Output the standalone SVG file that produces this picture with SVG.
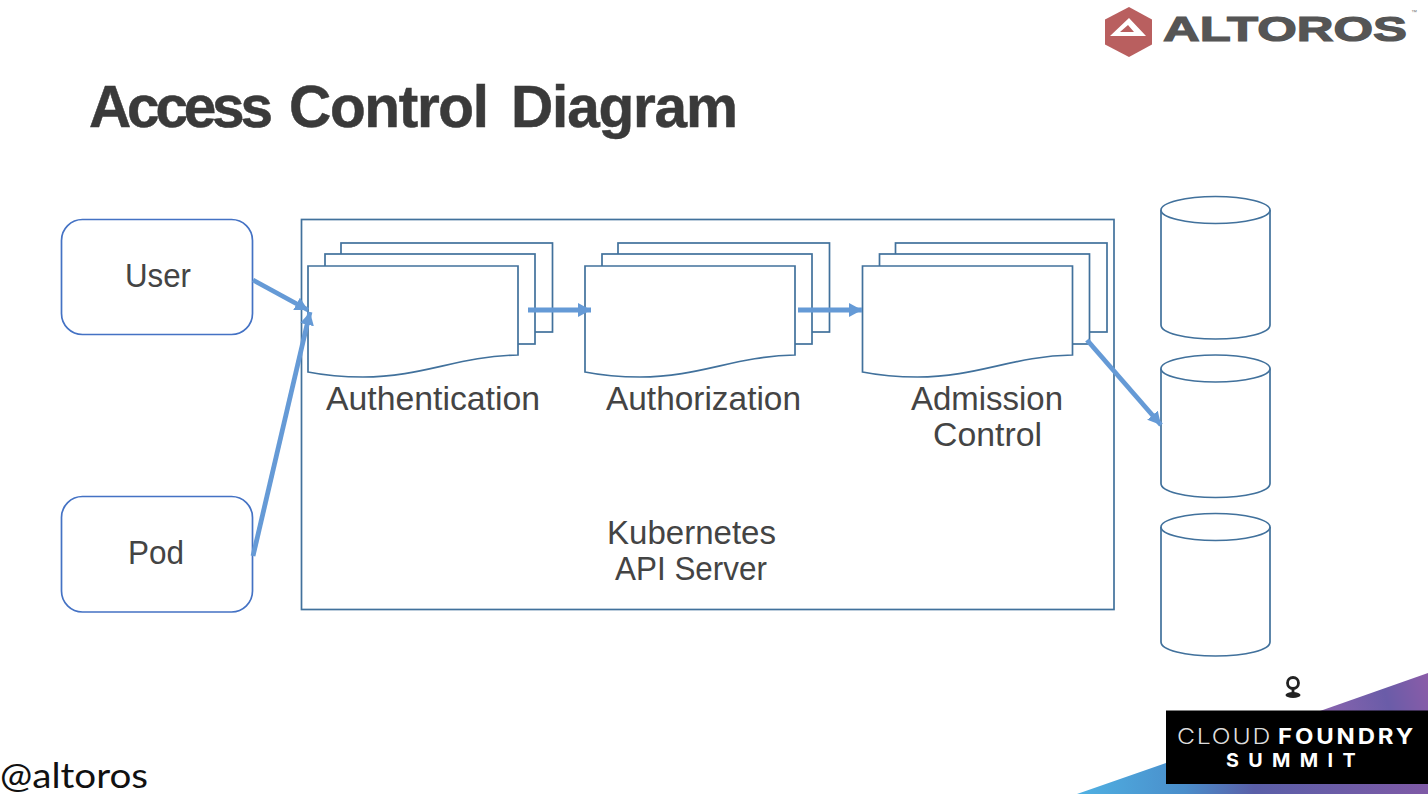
<svg xmlns="http://www.w3.org/2000/svg" width="1428" height="794" viewBox="0 0 1428 794">
<style>
text{font-family:"Liberation Sans",Arial,sans-serif}
.lbl{font-size:33px;fill:#444;text-anchor:middle}
.lg{font-family:Inter,"Liberation Sans",sans-serif}
.box{fill:#fff;stroke:#41719c;stroke-width:1.7}
.term{fill:#fff;stroke:#4472c4;stroke-width:1.7}
.conn{fill:none;stroke:#659ad6;stroke-width:4.800;marker-end:url(#arrow)}
</style>
<defs>
<marker id="arrow" markerUnits="userSpaceOnUse" markerWidth="15" markerHeight="15" refX="13" refY="7" orient="auto"><path d="M0 0L13 7L0 14z" fill="#659ad6"/></marker>
<linearGradient id="tri" gradientUnits="userSpaceOnUse" x1="1080" y1="0" x2="1428" y2="0"><stop offset="0" stop-color="#4fb0e2"/><stop offset=".3" stop-color="#4a8ecb"/><stop offset=".5" stop-color="#5a5fa8"/><stop offset="1" stop-color="#7f5aa6"/></linearGradient>
<linearGradient id="tri2" gradientUnits="userSpaceOnUse" x1="1320" y1="710" x2="1428" y2="680"><stop offset="0" stop-color="#8a64ae"/><stop offset=".6" stop-color="#6a5ca8"/><stop offset="1" stop-color="#8a5ca8"/></linearGradient>
<path id="doc" d="M0 0H210V89C150 90 115 111 55 111C32 111 15 109 0 106Z"/>
<g id="stack">
<rect class="box" x="33" y="-23" width="211.500" height="89"/>
<rect class="box" x="17" y="-12" width="210" height="90"/>
<use href="#doc" class="box"/>
</g>
<g id="cyl">
<path class="box" d="M0 14V129C0 137 24 143 54.500 143S109 137 109 129V14"/>
<ellipse class="box" cx="54.500" cy="14" rx="54.500" ry="13.500"/>
</g>
</defs>
<rect width="1428" height="794" fill="#fff"/>
<g id="logo">
<path d="M1129 7L1152 19.500V44.500L1129 57L1105 44.500V19.500Z" fill="#b95f5f"/>
<path fill-rule="evenodd" d="M1129 18L1146 36H1110ZM1120 32L1128 25L1134 32Z" fill="#fff"/>
<text x="1163" y="41" font-size="35" font-weight="700" fill="#555" stroke="#555" stroke-width="1.200" textLength="244" lengthAdjust="spacingAndGlyphs">ALTOROS</text>
<text x="1414" y="14" font-size="6" fill="#777" text-anchor="middle">™</text>
</g>
<text id="title" y="126.700" font-size="58.500" font-weight="700" fill="#3a3a3a" stroke="#3a3a3a" stroke-width=".5"><tspan x="89" textLength="184" lengthAdjust="spacing">Access</tspan><tspan x="289" textLength="200" lengthAdjust="spacing">Control</tspan><tspan x="511" textLength="227" lengthAdjust="spacing">Diagram</tspan></text>
<g id="api-server">
<rect class="box" x="301.500" y="219.500" width="812.500" height="390"/>
<text class="lbl" x="607" y="544" style="text-anchor:start" textLength="169" lengthAdjust="spacingAndGlyphs">Kubernetes</text>
<text class="lbl" x="615" y="580" style="text-anchor:start" textLength="152" lengthAdjust="spacingAndGlyphs">API Server</text>
</g>
<g id="user"><rect class="term" x="61.500" y="219.500" width="191" height="115" rx="21"/><text class="lbl" x="125" y="287" style="text-anchor:start" textLength="66" lengthAdjust="spacingAndGlyphs">User</text></g>
<g id="pod"><rect class="term" x="61.500" y="496.500" width="191" height="115.500" rx="21"/><text class="lbl" x="128" y="564" style="text-anchor:start" textLength="56" lengthAdjust="spacingAndGlyphs">Pod</text></g>
<g id="authentication"><use href="#stack" transform="translate(308 266)"/><text class="lbl" x="326" y="410" style="text-anchor:start" textLength="214" lengthAdjust="spacingAndGlyphs">Authentication</text></g>
<g id="authorization"><use href="#stack" transform="translate(585 266)"/><text class="lbl" x="606" y="410" style="text-anchor:start" textLength="195" lengthAdjust="spacingAndGlyphs">Authorization</text></g>
<g id="admission-control"><use href="#stack" transform="translate(862.500 266)"/><text class="lbl" x="911" y="410" style="text-anchor:start" textLength="152" lengthAdjust="spacingAndGlyphs">Admission</text><text class="lbl" x="933" y="446" style="text-anchor:start" textLength="109" lengthAdjust="spacingAndGlyphs">Control</text></g>
<g id="db1"><use href="#cyl" transform="translate(1161 196)"/></g>
<g id="db2"><use href="#cyl" transform="translate(1161 354.500)"/></g>
<g id="db3"><use href="#cyl" transform="translate(1161 513)"/></g>
<g id="connectors">
<path class="conn" d="M253 280L308 310"/>
<path class="conn" d="M253 556L310 312"/>
<path class="conn" d="M528 310H591"/>
<path class="conn" d="M798 310H862"/>
<path class="conn" d="M1087 340L1161 425"/>
</g>
<g id="summit">
<path d="M1077 794L1166 763V784H1428V794Z" fill="url(#tri)"/>
<path d="M1320 711L1428 673V711Z" fill="url(#tri2)"/>
<rect x="1166" y="710.500" width="262" height="73.500" fill="#000"/>
<g fill="none" stroke="#222" stroke-width="2.800"><circle cx="1293" cy="683" r="5.500"/><path d="M1293 688V694"/></g>
<ellipse cx="1293" cy="695" rx="7.500" ry="3" fill="#222"/>
<text class="lg" x="1177" y="743.500" font-size="21" font-weight="300" fill="#ddd" letter-spacing="1.500" textLength="95" lengthAdjust="spacingAndGlyphs">CLOUD</text>
<text class="lg" x="1278" y="743.500" font-size="21" font-weight="700" fill="#fff" letter-spacing="2.500" textLength="138" lengthAdjust="spacingAndGlyphs">FOUNDRY</text>
<text class="lg" x="1226" y="767" font-size="19" font-weight="700" fill="#fff" letter-spacing="9" textLength="139" lengthAdjust="spacingAndGlyphs">SUMMIT</text>
</g>
<text id="handle" x="0" y="788" font-size="35" fill="#111" textLength="148" lengthAdjust="spacingAndGlyphs" style="font-family:Lato,sans-serif">@altoros</text>
</svg>
